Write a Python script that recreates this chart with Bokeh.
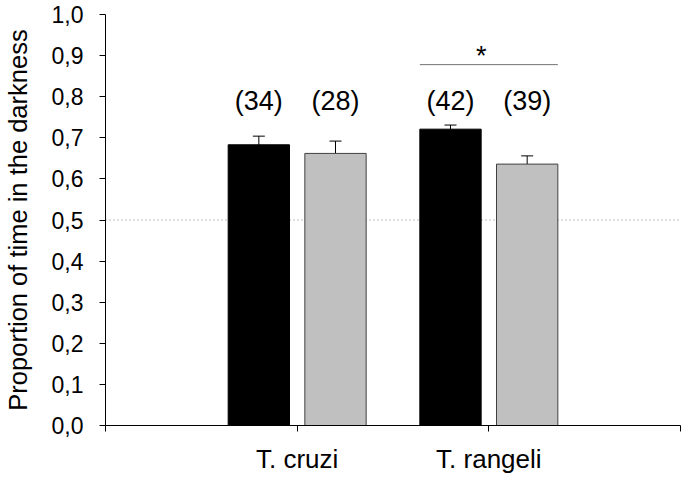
from bokeh.plotting import figure
from bokeh.models import FixedTicker, ColumnDataSource, Whisker, Span, TeeHead
from bokeh.core.properties import value
from bokeh.embed import file_html
from bokeh.resources import INLINE

categories = ["T. cruzi", "T. rangeli"]
cat_pos = [1, 2]
black_means = [0.683, 0.721]
black_se = [0.021, 0.010]
gray_means = [0.662, 0.636]
gray_se = [0.030, 0.020]
black_n = ["(34)", "(42)"]
gray_n = ["(28)", "(39)"]
y_ticks = [0.0, 0.1, 0.2, 0.3, 0.4, 0.5, 0.6, 0.7, 0.8, 0.9, 1.0]
y_tick_labels = ["0,0", "0,1", "0,2", "0,3", "0,4", "0,5", "0,6", "0,7", "0,8", "0,9", "1,0"]
chance_level = 0.5
sig_y = 0.878
sig_label = "*"

FONT = "Liberation Sans"
off = 0.2
bw = 0.32

p = figure(width=683, height=476, x_range=(0, 3), y_range=(0, 1),
           output_backend="svg", toolbar_location=None,
           min_border_left=104, min_border_right=3, min_border_top=14, min_border_bottom=48)
p.outline_line_color = None
p.grid.grid_line_color = None
p.background_fill_color = None

# chance line
p.add_layout(Span(location=chance_level, dimension="width", line_color="#808080",
                  line_dash="1 3", line_width=1, level="underlay"))

bx = [c - off for c in cat_pos]
gx = [c + off for c in cat_pos]
src_b = ColumnDataSource(dict(x=bx, top=black_means,
                              up=[m + s for m, s in zip(black_means, black_se)],
                              lo=[m - s for m, s in zip(black_means, black_se)], n=black_n,
                              ny=[0.79] * 2))
src_g = ColumnDataSource(dict(x=gx, top=gray_means,
                              up=[m + s for m, s in zip(gray_means, gray_se)],
                              lo=[m - s for m, s in zip(gray_means, gray_se)], n=gray_n,
                              ny=[0.79] * 2))

p.vbar(x="x", top="top", bottom=0, width=bw, source=src_b, fill_color="black",
       line_color="black", line_width=1)
p.vbar(x="x", top="top", bottom=0, width=bw, source=src_g, fill_color="#c0c0c0",
       line_color="#404040", line_width=1)

for src in (src_b, src_g):
    w = Whisker(base="x", upper="up", lower="lo", source=src, line_color="black",
                line_width=1,
                upper_head=TeeHead(size=12, line_color="black", line_width=1),
                lower_head=TeeHead(size=12, line_color="black", line_width=1))
    p.add_layout(w)
    p.text(x="x", y="ny", text="n", source=src, text_align="center",
           text_baseline="middle", text_font=value(FONT), text_font_size="27px",
           text_color="black")

# significance line over T. rangeli
p.line(x=[cat_pos[1] - off - bw / 2, cat_pos[1] + off + bw / 2], y=[sig_y, sig_y],
       line_color="#707070", line_width=1)
p.text(x=[cat_pos[1] - 0.04], y=[sig_y + 0.022], text=[sig_label], text_align="center",
       text_baseline="alphabetic", text_font=value(FONT), text_font_size="27px",
       text_color="black")

# axes
p.xaxis.ticker = FixedTicker(ticks=[0, 1, 2, 3])
p.xaxis.major_label_overrides = {0: "", 1: categories[0], 2: categories[1], 3: ""}
p.xaxis.major_tick_in = 0
p.xaxis.major_tick_out = 6
p.xaxis.minor_tick_line_color = None
p.xaxis.major_label_standoff = 12
p.xaxis.major_label_text_font = FONT
p.xaxis.major_label_text_font_size = "26px"
p.xaxis.major_label_text_color = "black"
p.xaxis.axis_line_color = "black"

p.yaxis.ticker = FixedTicker(ticks=y_ticks)
p.yaxis.major_label_overrides = {t: l for t, l in zip(y_ticks, y_tick_labels)}
p.yaxis.major_tick_in = 0
p.yaxis.major_tick_out = 6
p.yaxis.minor_tick_line_color = None
p.yaxis.major_label_standoff = 16
p.yaxis.major_label_text_font = FONT
p.yaxis.major_label_text_font_size = "23px"
p.yaxis.major_label_text_color = "black"
p.yaxis.axis_label = "Proportion of time in the darkness"
p.yaxis.axis_label_text_font = FONT
p.yaxis.axis_label_text_font_size = "25.5px"
p.yaxis.axis_label_text_font_style = "normal"
p.yaxis.axis_label_text_color = "black"
p.yaxis.axis_label_standoff = 17
p.yaxis.axis_line_color = "black"

open("out.html", "w").write(file_html(p, INLINE))
